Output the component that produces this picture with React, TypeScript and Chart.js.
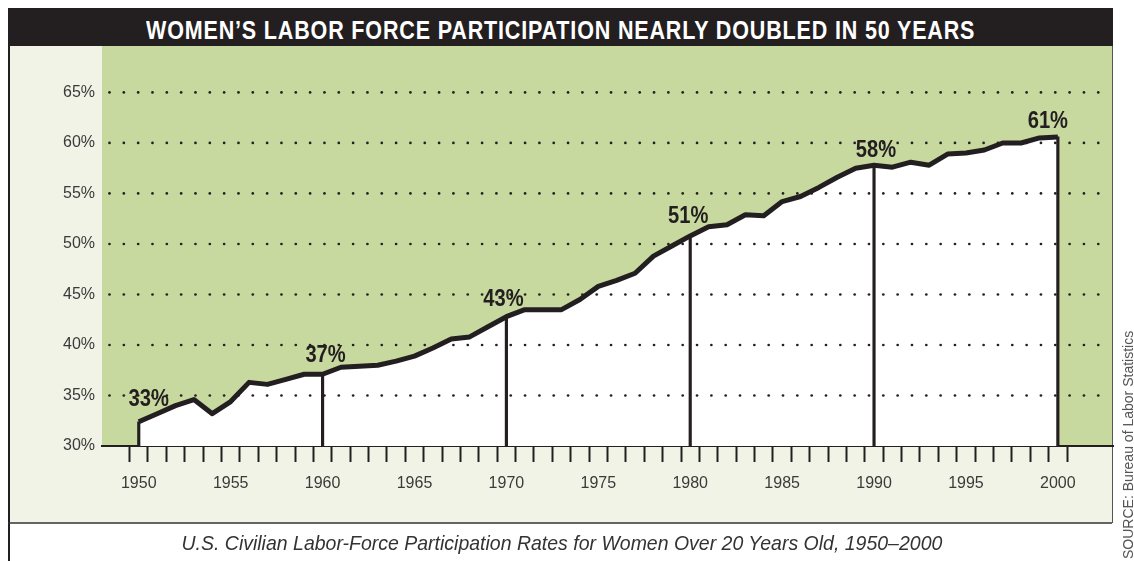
import React, { useEffect, useLayoutEffect, useRef } from 'react';
import { Chart, registerables } from 'chart.js';

Chart.register(...registerables);

const years: number[] = [
  1950, 1951, 1952, 1953, 1954, 1955, 1956, 1957, 1958, 1959,
  1960, 1961, 1962, 1963, 1964, 1965, 1966, 1967, 1968, 1969,
  1970, 1971, 1972, 1973, 1974, 1975, 1976, 1977, 1978, 1979,
  1980, 1981, 1982, 1983, 1984, 1985, 1986, 1987, 1988, 1989,
  1990, 1991, 1992, 1993, 1994, 1995, 1996, 1997, 1998, 1999,
  2000,
];

const rates: number[] = [
  32.4, 33.2, 34.0, 34.6, 33.2, 34.4, 36.3, 36.1, 36.6, 37.1,
  37.1, 37.8, 37.9, 38.0, 38.4, 38.9, 39.7, 40.6, 40.8, 41.8,
  42.8, 43.5, 43.5, 43.5, 44.5, 45.8, 46.4, 47.1, 48.8, 49.8,
  50.8, 51.7, 51.9, 52.9, 52.8, 54.2, 54.7, 55.6, 56.6, 57.5,
  57.8, 57.6, 58.1, 57.8, 58.9, 59.0, 59.3, 60.0, 60.0, 60.5,
  60.6,
];

const labelYears: number[] = [1950, 1960, 1970, 1980, 1990, 2000];
const labelTexts: string[] = ['33%', '37%', '43%', '51%', '58%', '61%'];

const yTickValues: number[] = [30, 35, 40, 45, 50, 55, 60, 65];
const xLabelYears: number[] = [1950, 1955, 1960, 1965, 1970, 1975, 1980, 1985, 1990, 1995, 2000];

const titleText = 'WOMEN\u2019S LABOR FORCE PARTICIPATION NEARLY DOUBLED IN 50 YEARS';
const captionText = 'U.S. Civilian Labor-Force Participation Rates for Women Over 20 Years Old, 1950\u20132000';
const sourceText = 'SOURCE: Bureau of Labor Statistics';

const INK = '#231f20';
const SANS = "'Liberation Sans', Arial, sans-serif";

function useFit(target: number) {
  const ref = useRef<HTMLSpanElement>(null);
  useLayoutEffect(() => {
    const el = ref.current;
    if (!el) return;
    const w = el.offsetWidth;
    if (w > 0) el.style.transform = `scaleX(${target / w})`;
  }, [target]);
  return ref;
}

export default function App() {
  const ref = useRef<HTMLCanvasElement>(null);
  const titleRef = useFit(829);
  const captionRef = useFit(761);
  const sourceRef = useFit(228);

  useEffect(() => {
    const canvas = ref.current;
    if (!canvas) return;

    const panels = {
      id: 'panels',
      beforeDraw(chart: any) {
        const { ctx, chartArea: a } = chart;
        ctx.save();
        ctx.fillStyle = '#f2f3e7';
        ctx.fillRect(8, 46, 1104, 477);
        ctx.fillStyle = '#c8d9a0';
        ctx.fillRect(a.left, a.top, a.right - a.left, a.bottom - a.top);
        ctx.strokeStyle = INK;
        ctx.lineWidth = 2;
        ctx.beginPath();
        ctx.moveTo(9, 46);
        ctx.lineTo(9, 561);
        ctx.stroke();
        ctx.lineWidth = 1.5;
        ctx.strokeStyle = '#333';
        ctx.beginPath();
        ctx.moveTo(8, 523);
        ctx.lineTo(1112, 523);
        ctx.stroke();
        ctx.lineWidth = 1;
        ctx.strokeStyle = '#555';
        ctx.beginPath();
        ctx.moveTo(1112.5, 46);
        ctx.lineTo(1112.5, 523);
        ctx.stroke();
        ctx.restore();
      },
    };

    const labelDx = [10, 3, -3, -2, 2, -10];
    const labelDy = [16, 12, 11, 13, 8, 9];

    const overlay = {
      id: 'overlay',
      afterDatasetsDraw(chart: any) {
        const { ctx, chartArea: a } = chart;
        const xs = chart.scales.x;
        const ys = chart.scales.y;
        ctx.save();
        ctx.fillStyle = INK;
        yTickValues.forEach((v) => {
          if (v === yTickValues[0]) return;
          const py = ys.getPixelForValue(v);
          for (let px = a.left + 7.5; px < a.right - 6; px += 14.33) {
            ctx.beginPath();
            ctx.arc(px, py, 1.35, 0, Math.PI * 2);
            ctx.fill();
          }
        });
        ctx.font = `bold 24px ${SANS}`;
        ctx.textAlign = 'center';
        ctx.textBaseline = 'alphabetic';
        labelYears.forEach((yr, i) => {
          const val = rates[years.indexOf(yr)];
          const px = xs.getPixelForValue(yr) + labelDx[i];
          const py = ys.getPixelForValue(val) - labelDy[i];
          ctx.save();
          ctx.translate(px, py);
          ctx.scale(0.84, 1);
          ctx.fillText(labelTexts[i], 0, 0);
          ctx.restore();
        });
        ctx.restore();
      },
    };

    const chart = new Chart(canvas, {
      type: 'line',
      data: {
        datasets: [
          {
            type: 'bar',
            data: labelYears.map((yr) => ({ x: yr, y: rates[years.indexOf(yr)] })),
            backgroundColor: INK,
            borderWidth: 0,
            barThickness: 2.5,
            order: 1,
          } as any,
          {
            type: 'line',
            data: years.map((yr, i) => ({ x: yr, y: rates[i] })),
            borderColor: INK,
            borderWidth: 5,
            backgroundColor: '#ffffff',
            fill: 'start',
            pointRadius: 0,
            tension: 0,
            borderJoinStyle: 'round',
            order: 2,
          } as any,
        ],
      },
      options: {
        animation: false,
        responsive: false,
        layout: { padding: { left: 8, right: 21, top: 46, bottom: 65 } },
        plugins: {
          legend: { display: false },
          tooltip: { enabled: false },
          title: { display: false },
        },
        scales: {
          x: {
            type: 'linear',
            min: 1948,
            max: 2003,
            offset: false,
            z: 1,
            afterBuildTicks: (s: any) => {
              s.ticks = years.map((v) => ({ value: v }));
            },
            afterFit: (s: any) => {
              s.height = 50;
            },
            grid: {
              drawOnChartArea: false,
              drawTicks: true,
              tickLength: 16,
              tickWidth: 2,
              tickColor: INK,
            },
            border: { display: true, color: INK, width: 2 },
            ticks: {
              autoSkip: false,
              maxRotation: 0,
              minRotation: 0,
              padding: 12,
              color: '#3a3a3a',
              font: { family: SANS, size: 16 },
              callback: (v: any) => (xLabelYears.includes(Number(v)) ? String(v) : ''),
            },
          },
          y: {
            type: 'linear',
            min: 30,
            max: 69.6,
            afterBuildTicks: (s: any) => {
              s.ticks = yTickValues.map((v) => ({ value: v }));
            },
            afterFit: (s: any) => {
              s.width = 94;
            },
            grid: { display: false, drawTicks: false },
            border: { display: false },
            ticks: {
              padding: 7,
              color: '#3a3a3a',
              font: { family: SANS, size: 16 },
              callback: (v: any) => `${v}%`,
            },
          },
        },
      } as any,
      plugins: [panels, overlay],
    });

    return () => chart.destroy();
  }, []);

  return (
    <div style={{ position: 'absolute', left: 0, top: 0, width: 1134, height: 561, overflow: 'hidden', background: '#fff' }}>
      <canvas ref={ref} width={1134} height={561} style={{ position: 'absolute', left: 0, top: 0 }} />
      <div
        style={{
          position: 'absolute',
          left: 8,
          top: 8,
          width: 1105,
          height: 38,
          background: INK,
          boxSizing: 'border-box',
          paddingTop: 10.4,
          display: 'flex',
          alignItems: 'flex-start',
          justifyContent: 'center',
        }}
      >
        <span
          ref={titleRef}
          style={{
            display: 'inline-block',
            color: '#fff',
            fontFamily: SANS,
            fontWeight: 'bold',
            fontSize: 25.5,
            lineHeight: '25.5px',
            letterSpacing: 1,
            whiteSpace: 'nowrap',
            transformOrigin: '50% 50%',
          }}
        >
          {titleText}
        </span>
      </div>
      <div
        style={{
          position: 'absolute',
          left: 8,
          top: 532,
          width: 1107,
          display: 'flex',
          justifyContent: 'center',
        }}
      >
        <span
          ref={captionRef}
          style={{
            display: 'inline-block',
            fontFamily: SANS,
            fontStyle: 'italic',
            fontSize: 21,
            lineHeight: '21px',
            color: '#333',
            whiteSpace: 'nowrap',
            transformOrigin: '50% 50%',
          }}
        >
          {captionText}
        </span>
      </div>
      <div
        style={{
          position: 'absolute',
          left: 1119,
          top: 559,
          transformOrigin: '0 0',
          transform: 'rotate(-90deg)',
          whiteSpace: 'nowrap',
        }}
      >
        <span
          ref={sourceRef}
          style={{
            display: 'inline-block',
            fontFamily: SANS,
            fontSize: 15,
            lineHeight: '17px',
            color: '#555',
            whiteSpace: 'nowrap',
            transformOrigin: '0 0',
          }}
        >
          {sourceText}
        </span>
      </div>
    </div>
  );
}
